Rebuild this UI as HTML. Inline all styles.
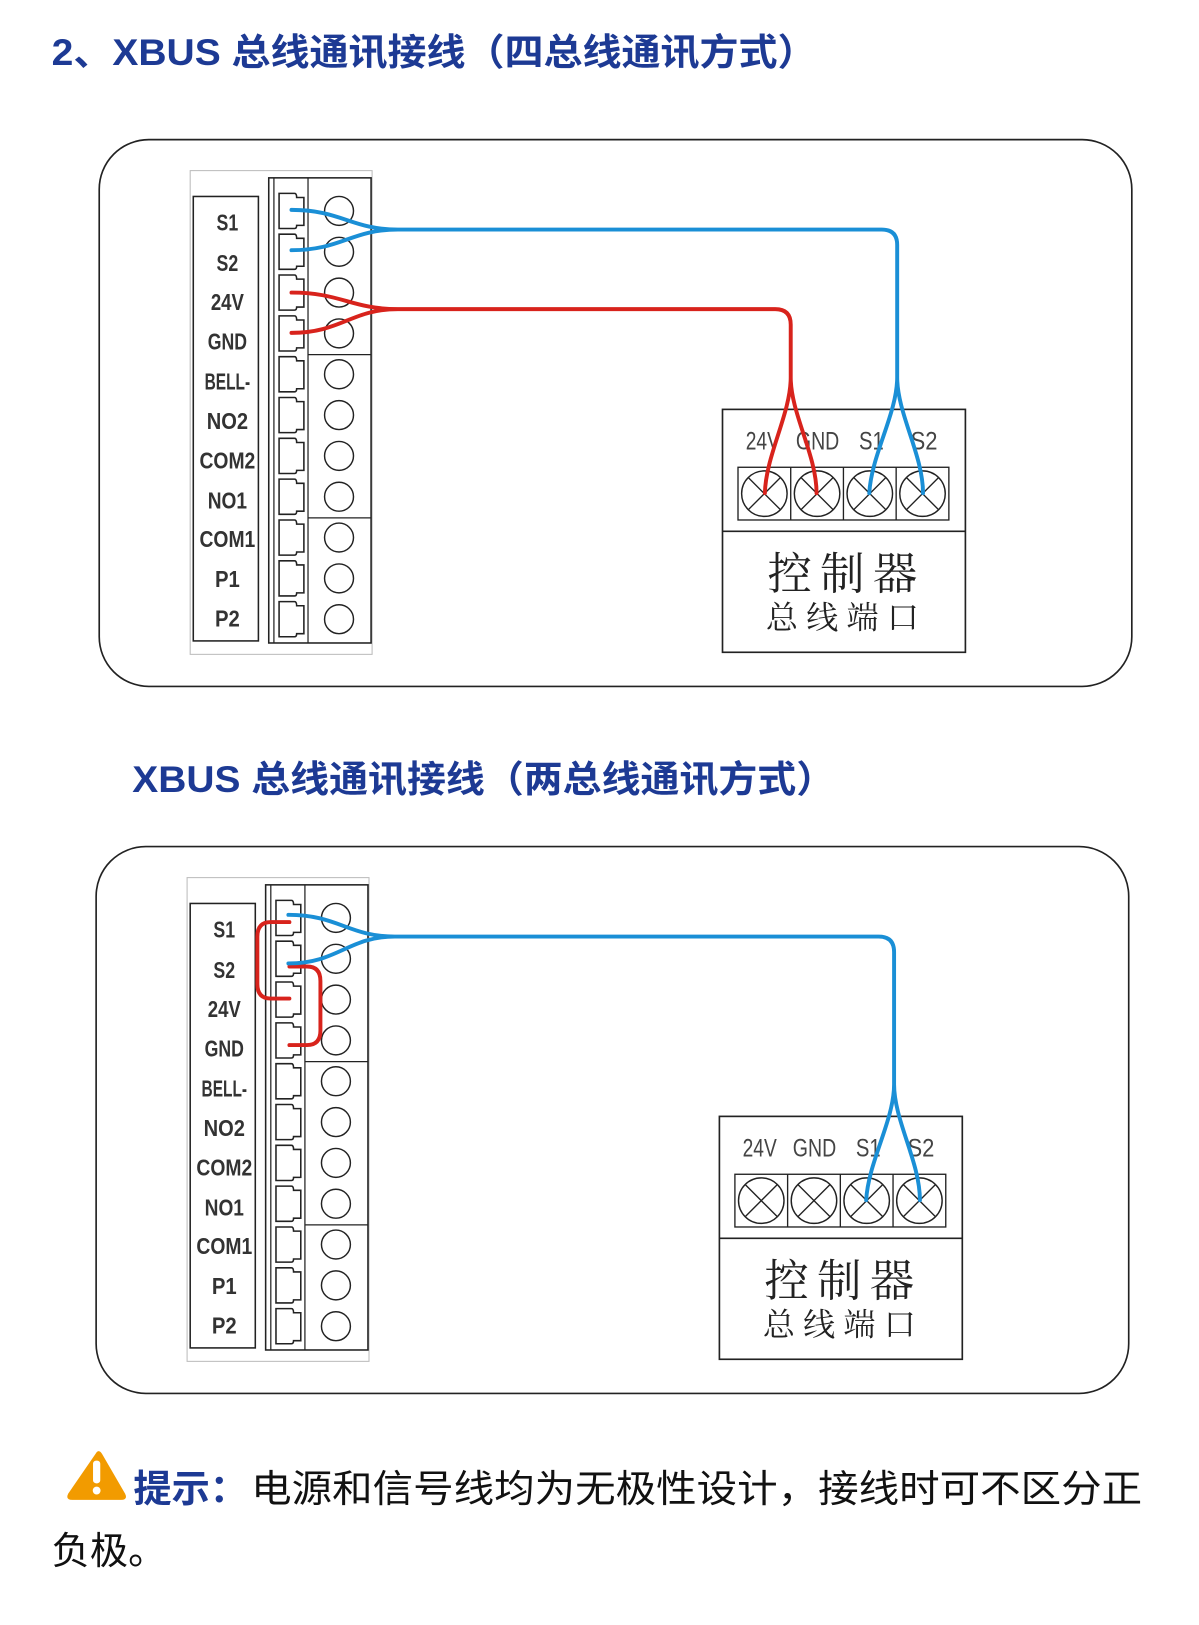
<!DOCTYPE html>
<html><head><meta charset="utf-8"><style>
html,body{margin:0;padding:0;background:#fff;}
svg{display:block;}
</style></head><body>
<svg width="1199" height="1625" viewBox="0 0 1160 1572" xmlns="http://www.w3.org/2000/svg">
<defs>
<g id="pad"><path d="M270,-17 H285 q2,0 2,4 h7 V14 h-7 q0,3 -2,3 H270 Z" fill="#fff" stroke="#222" stroke-width="1.5"/></g>
<g id="row"><use href="#pad"/><circle cx="328" cy="0" r="14" fill="#fff" stroke="#222" stroke-width="1.4"/></g>
<g id="block">
<rect x="184" y="165" width="176" height="468" fill="#fff" stroke="#bbb" stroke-width="1"/>
<rect x="187" y="190" width="63" height="430" fill="#fff" stroke="#222" stroke-width="1.5"/>
<rect x="260" y="172" width="99" height="450" fill="#fff" stroke="#222" stroke-width="1.5"/>
<line x1="265" y1="172" x2="265" y2="622" stroke="#222" stroke-width="1.2"/>
<line x1="298" y1="172" x2="298" y2="622" stroke="#222" stroke-width="1.2"/>
<line x1="298" y1="343" x2="359" y2="343" stroke="#222" stroke-width="1.2"/>
<line x1="298" y1="501" x2="359" y2="501" stroke="#222" stroke-width="1.2"/>
<use href="#row" y="204"/><use href="#row" y="243.5"/><use href="#row" y="283"/><use href="#row" y="322.5"/>
<use href="#row" y="362"/><use href="#row" y="401.5"/><use href="#row" y="441"/><use href="#row" y="480.5"/>
<use href="#row" y="520"/><use href="#row" y="559.5"/><use href="#row" y="599"/>
</g>
<g id="xc"><circle r="22" fill="#fff" stroke="#222" stroke-width="1.4"/><path d="M-15.6,-15.6 L15.6,15.6 M15.6,-15.6 L-15.6,15.6" stroke="#222" stroke-width="1.3"/></g>
<g id="ctrl">
<rect x="699" y="396" width="235" height="235" fill="#fff" stroke="#222" stroke-width="1.6"/>
<rect x="714" y="452" width="204" height="51" fill="#fff" stroke="#222" stroke-width="1.3"/>
<path d="M765,452V503M816,452V503M867,452V503" stroke="#222" stroke-width="1.3"/>
<line x1="699" y1="514" x2="934" y2="514" stroke="#222" stroke-width="1.6"/>
<use href="#xc" x="739.5" y="477.5"/><use href="#xc" x="790.5" y="477.5"/><use href="#xc" x="841.5" y="477.5"/><use href="#xc" x="892.5" y="477.5"/>
</g>
</defs>

<g font-family="'Liberation Sans','Noto Sans CJK SC',sans-serif" fill="#1d3a94" font-size="36" font-weight="bold">
<text x="50" y="63" textLength="740" lengthAdjust="spacingAndGlyphs">2、XBUS 总线通讯接线（四总线通讯方式）</text>
<text x="128" y="766" textLength="680" lengthAdjust="spacingAndGlyphs">XBUS 总线通讯接线（两总线通讯方式）</text>
</g>

<!-- Diagram 1 -->
<rect x="96" y="135" width="999" height="529" rx="48" fill="none" stroke="#222" stroke-width="1.6"/>
<use href="#block"/>
<use href="#ctrl"/>
<g font-family="'Liberation Sans',sans-serif" font-weight="bold" font-size="22" fill="#333" text-anchor="middle" lengthAdjust="spacingAndGlyphs">
<text x="220" y="223" textLength="21" lengthAdjust="spacingAndGlyphs">S1</text><text x="220" y="262" textLength="21" lengthAdjust="spacingAndGlyphs">S2</text><text x="220" y="300" textLength="32" lengthAdjust="spacingAndGlyphs">24V</text><text x="220" y="338" textLength="38" lengthAdjust="spacingAndGlyphs">GND</text>
<text x="220" y="377" textLength="44" lengthAdjust="spacingAndGlyphs">BELL-</text><text x="220" y="415" textLength="40" lengthAdjust="spacingAndGlyphs">NO2</text><text x="220" y="453" textLength="54" lengthAdjust="spacingAndGlyphs">COM2</text><text x="220" y="492" textLength="38" lengthAdjust="spacingAndGlyphs">NO1</text>
<text x="220" y="529" textLength="54" lengthAdjust="spacingAndGlyphs">COM1</text><text x="220" y="568" textLength="24" lengthAdjust="spacingAndGlyphs">P1</text><text x="220" y="606" textLength="24" lengthAdjust="spacingAndGlyphs">P2</text>
</g>
<g font-family="'Liberation Sans',sans-serif" font-size="24" fill="#444" text-anchor="middle">
<text x="738" y="435" textLength="33" lengthAdjust="spacingAndGlyphs">24V</text><text x="791" y="435" textLength="42" lengthAdjust="spacingAndGlyphs">GND</text><text x="843" y="435" textLength="24" lengthAdjust="spacingAndGlyphs">S1</text><text x="894" y="435" textLength="26" lengthAdjust="spacingAndGlyphs">S2</text>
</g>
<g font-family="'Noto Serif CJK SC','Noto Sans CJK SC',serif" fill="#222" text-anchor="middle">
<text x="819" y="570" font-size="43" letter-spacing="8">控制器</text>
<text x="819" y="608" font-size="31" letter-spacing="8">总线端口</text>
</g>
<g fill="none" stroke-width="3.8" stroke-linecap="round">
<path d="M282,203 C330,203 340,222 385,222 M282,242 C330,242 340,222 385,222 L853,222 Q868,222 868,237 L868,365 C868,400 843,440 841,477 M868,365 C868,400 893,440 893,477" stroke="#1a8fd6"/>
<path d="M282,283 C330,283 340,299 385,299 M282,322 C330,322 340,299 385,299 L750,299 Q765,299 765,314 L765,365 C765,400 741,440 740,477 M765,365 C765,400 790,440 790,477" stroke="#d8231c"/>
</g>

<!-- Diagram 2 -->
<rect x="93" y="819" width="999" height="529" rx="48" fill="none" stroke="#222" stroke-width="1.6"/>
<g transform="translate(-3,684)">
<use href="#block"/>
<use href="#ctrl"/>
<g font-family="'Liberation Sans',sans-serif" font-weight="bold" font-size="22" fill="#333" text-anchor="middle">
<text x="220" y="223" textLength="21" lengthAdjust="spacingAndGlyphs">S1</text><text x="220" y="262" textLength="21" lengthAdjust="spacingAndGlyphs">S2</text><text x="220" y="300" textLength="32" lengthAdjust="spacingAndGlyphs">24V</text><text x="220" y="338" textLength="38" lengthAdjust="spacingAndGlyphs">GND</text>
<text x="220" y="377" textLength="44" lengthAdjust="spacingAndGlyphs">BELL-</text><text x="220" y="415" textLength="40" lengthAdjust="spacingAndGlyphs">NO2</text><text x="220" y="453" textLength="54" lengthAdjust="spacingAndGlyphs">COM2</text><text x="220" y="492" textLength="38" lengthAdjust="spacingAndGlyphs">NO1</text>
<text x="220" y="529" textLength="54" lengthAdjust="spacingAndGlyphs">COM1</text><text x="220" y="568" textLength="24" lengthAdjust="spacingAndGlyphs">P1</text><text x="220" y="606" textLength="24" lengthAdjust="spacingAndGlyphs">P2</text>
</g>
<g font-family="'Liberation Sans',sans-serif" font-size="24" fill="#444" text-anchor="middle">
<text x="738" y="435" textLength="33" lengthAdjust="spacingAndGlyphs">24V</text><text x="791" y="435" textLength="42" lengthAdjust="spacingAndGlyphs">GND</text><text x="843" y="435" textLength="24" lengthAdjust="spacingAndGlyphs">S1</text><text x="894" y="435" textLength="26" lengthAdjust="spacingAndGlyphs">S2</text>
</g>
<g font-family="'Noto Serif CJK SC','Noto Sans CJK SC',serif" fill="#222" text-anchor="middle">
<text x="819" y="570" font-size="43" letter-spacing="8">控制器</text>
<text x="819" y="608" font-size="31" letter-spacing="8">总线端口</text>
</g>
<g fill="none" stroke-width="3.8" stroke-linecap="round">
<path d="M283,208 L265,208 Q252,208 252,222 L252,268 Q252,282 265,282 L283,282" stroke="#d8231c"/>
<path d="M283,251 L300,251 Q313,251 313,265 L313,313 Q313,327 300,327 L283,327" stroke="#d8231c"/>
<path d="M282,201 C330,201 340,222 385,222 M282,248 C330,248 340,222 385,222 L853,222 Q868,222 868,237 L868,365 C868,400 843,440 841,477 M868,365 C868,400 893,440 893,477" stroke="#1a8fd6"/>
</g>
</g>

<!-- Warning -->
<path d="M93.5,1405 Q96,1402 99,1407 L121,1445 Q124,1451 117,1451 L70,1451 Q63,1451 66,1445 Z" fill="#f29b00"/>
<rect x="90" y="1413" width="7" height="22" rx="3" fill="#fff"/>
<circle cx="93.5" cy="1442" r="3.8" fill="#fff"/>
<text x="129" y="1453" font-family="'Liberation Sans','Noto Sans CJK SC',sans-serif" font-size="37" font-weight="bold" fill="#1d3a94">提示：</text>
<text x="243" y="1453" font-family="'Liberation Sans','Noto Sans CJK SC',sans-serif" font-size="37" fill="#111" textLength="862" lengthAdjust="spacingAndGlyphs">电源和信号线均为无极性设计，接线时可不区分正</text>
<text x="50" y="1513" font-family="'Liberation Sans','Noto Sans CJK SC',sans-serif" font-size="37" fill="#111">负极。</text>
</svg>
</body></html>
